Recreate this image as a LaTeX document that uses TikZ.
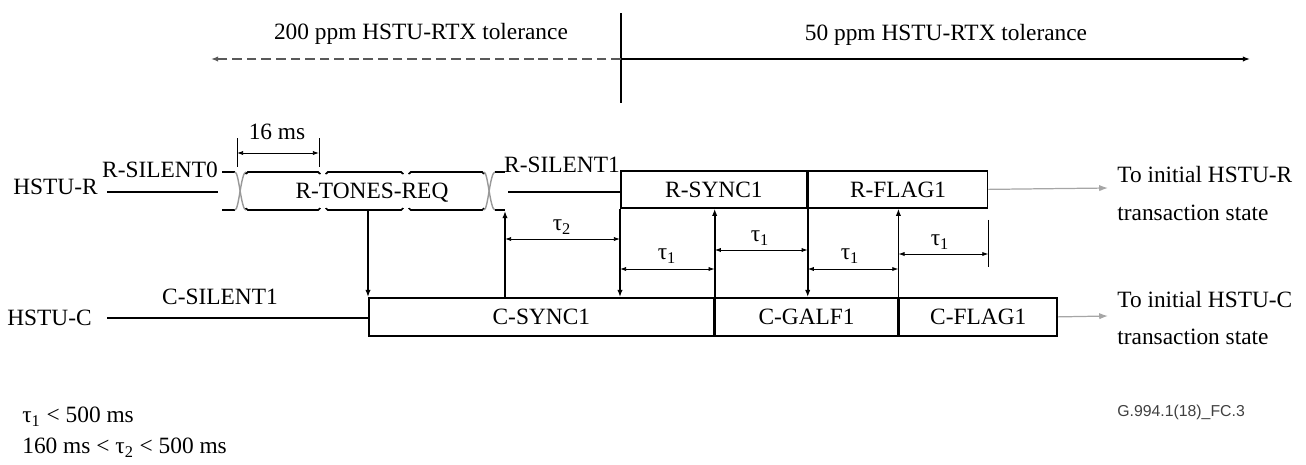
\documentclass[tikz,border=0pt]{standalone}
\usepackage{fontspec}
\setmainfont{Liberation Serif}
\newfontfamily\figsans{Liberation Sans}
\usetikzlibrary{arrows.meta,positioning,calc}

\begin{document}
\begin{tikzpicture}[x=0.02cm, y=-0.02cm,
			lab/.style={font=\fontsize{13.3}{16}\selectfont, inner sep=0pt, text height=8.8pt, text depth=0pt},
			sig/.style={line width=1pt},
			xing/.style={line width=0.8pt, draw=black!40},
			box/.style={draw, line width=1pt, inner sep=0pt, anchor=north west, font=\fontsize{13.3}{16}\selectfont},
			ev/.style={line width=1pt, -{Latex[length=4pt,width=3pt]}},
			dim/.style={line width=0.5pt, {Latex[length=3.5pt,width=2.4pt]}-{Latex[length=3.5pt,width=2.4pt]}},
			go/.style={line width=0.7pt, draw=black!35, -{Latex[length=5pt,width=3.6pt]}}
			]
			\useasboundingbox (0,0) rectangle (1306,464);
			
			% --------------------------------------------------------------------
			% tolerance split (top)
			% --------------------------------------------------------------------
			\coordinate (cut) at (621,59);
			\coordinate (cuttop) at (621,13);
			\coordinate (cutbot) at (621,103);
			\coordinate (old) at (211,59);
			\coordinate (new) at (1250,59);
			
			\draw[line width=0.8pt] (cuttop) -- (cutbot);
			\draw[line width=1.1pt, black!65, dash pattern=on 5.5pt off 2.8pt, -{Latex[length=4pt,width=3pt]}] (cut) -- (old);
			\draw[line width=1.1pt, -{Latex[length=4pt,width=3pt]}] (cut) -- (new);
			
			\node[lab] (tol200) at (421,32) {200 ppm HSTU-RTX tolerance};
			\node[lab] (tol50) at (946,33) {50 ppm HSTU-RTX tolerance};
			
			% --------------------------------------------------------------------
			% HSTU-R
			% --------------------------------------------------------------------
			\node[lab, anchor=east] (hr) at (98,187) {HSTU-R};
			\draw[sig] (107,192) -- (218,192);
			\node[lab] (rs0) at (160,170) {R-SILENT0};
			
			% R-TONES-REQ band
			\draw[sig] (222,172) -- (235,172) (222,210) -- (235,210);
			\draw[xing] (235,172) .. controls (239,172) and (241,210) .. (246,210);
			\draw[xing] (235,210) .. controls (239,210) and (241,172) .. (246,172);
			\foreach \a/\b in {246/320, 326/403, 409/484} {
				\draw[sig, rounded corners=1pt] (\a,174) |- (\b,172) -- (\b,174);
				\draw[sig, rounded corners=1pt] (\a,208) |- (\b,210) -- (\b,208);
			}
			\draw[xing] (484,172) .. controls (488,172) and (490,210) .. (495,210);
			\draw[xing] (484,210) .. controls (488,210) and (490,172) .. (495,172);
			\draw[sig] (495,172) -- (505,172) (495,210) -- (505,210);
			\node[lab] (treq) at (372,191) {R-TONES-REQ};
			
			% 16 ms
			\coordinate (ta) at (237,138);
			\coordinate (tb) at (319,138);
			\draw[line width=0.5pt] (ta) -- ++(0,29);
			\draw[line width=0.5pt] (tb) -- ++(0,29);
			\draw[dim] ($(ta)+(0,15)$) -- ($(tb)+(0,15)$);
			\node[lab] (sixteen) at (277,132) {16 ms};
			
			% R-SILENT1 and boxes
			\node[box, minimum width=3.72cm, minimum height=0.74cm] (rsync) at (620,170) {R-SYNC1};
			\node[box, minimum width=3.58cm, minimum height=0.74cm] (rflag) at (rsync.north east) {R-FLAG1};
			\draw[sig] (508,192) -- (rsync.west |- 0,192);
			\node[lab] (rs1) at (562,165) {R-SILENT1};
			
			% --------------------------------------------------------------------
			% HSTU-C
			% --------------------------------------------------------------------
			\node[lab, anchor=east] (hc) at (92,318) {HSTU-C};
			\node[box, minimum width=6.9cm, minimum height=0.76cm] (csync) at (368,297) {C-SYNC1};
			\node[box, minimum width=3.64cm, minimum height=0.76cm] (cgalf) at (csync.north east) {C-GALF1};
			\node[box, minimum width=3.16cm, minimum height=0.76cm] (cflag) at (cgalf.north east) {C-FLAG1};
			\draw[sig] (107,318) -- (csync.west |- 0,318);
			\node[lab] (cs1) at (220,297) {C-SILENT1};
			
			% --------------------------------------------------------------------
			% events between the two sides
			% --------------------------------------------------------------------
			\coordinate (tonesend) at (368,210);
			\coordinate (silend) at (505,211);
			
			\draw[ev] (tonesend) -- (csync.north west);
			\draw[ev] (csync.north west -| silend) -- (silend);
			\draw[ev] (rsync.south west) -- (rsync.south west |- csync.north);
			\draw[ev] (cgalf.north west) -- (cgalf.north west |- rsync.south);
			\draw[ev] (rflag.south west) -- (rflag.south west |- csync.north);
			\draw[ev] (cflag.north west) -- (cflag.north west |- rsync.south);
			\draw[line width=0.5pt] ($(rflag.south east)+(0,11)$) -- ++(0,47);
			
			% timeouts
			\draw[dim] (silend |- 0,239) -- (rsync.south west |- 0,239);
			\draw[dim] (rsync.south west |- 0,269) -- (cgalf.north west |- 0,269);
			\draw[dim] (cgalf.north west |- 0,250) -- (rflag.south west |- 0,250);
			\draw[dim] (rflag.south west |- 0,269) -- (cflag.north west |- 0,269);
			\draw[dim] (cflag.north west |- 0,254) -- (rflag.south east |- 0,254);
			
			\node[lab] (t2) at (562,223) {τ\textsubscript{2}};
			\node[lab] (t1a) at (667,252) {τ\textsubscript{1}};
			\node[lab] (t1b) at (760,234) {τ\textsubscript{1}};
			\node[lab] (t1c) at (850,252) {τ\textsubscript{1}};
			\node[lab] (t1d) at (940,238) {τ\textsubscript{1}};
			
			% --------------------------------------------------------------------
			% exits (right)
			% --------------------------------------------------------------------
			\coordinate (rout) at (1108,188);
			\coordinate (cout) at (1108,316);
			\draw[go] (rflag.east) -- (rout);
			\draw[go] (cflag.east) -- (cout);
			
			\node[lab, anchor=west] (rto) at (1117,175) {To initial HSTU-R};
			\node[lab, anchor=west] (rtr) at (1117,213) {transaction state};
			\node[lab, anchor=west] (cto) at (1117,300) {To initial HSTU-C};
			\node[lab, anchor=west] (ctr) at (1117,337) {transaction state};
			
			% conditions and figure id
			\node[lab, anchor=west] (cond1) at (22,415) {τ\textsubscript{1} < 500 ms};
			\node[lab, anchor=west] (cond2) at (22,446) {160 ms < τ\textsubscript{2} < 500 ms};
			\node[font=\figsans\fontsize{9}{11}\selectfont, text=black!75, inner sep=0pt, anchor=west] (figid) at (1117,412) {G.994.1(18)\_FC.3};
			
		\end{tikzpicture}
\end{document}
